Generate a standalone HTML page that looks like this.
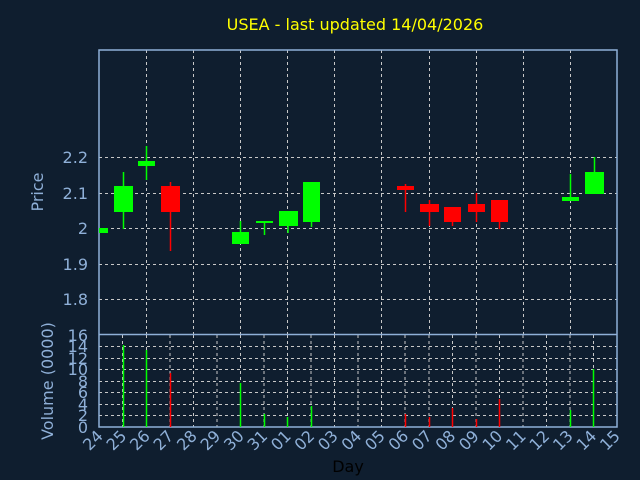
<!DOCTYPE html>
<html><head><style>
html,body{margin:0;padding:0;background:#0f1e2f;}
svg{display:block;font-family:"DejaVu Sans","Liberation Sans",sans-serif;}
</style></head><body>
<svg width="640" height="480" viewBox="0 0 640 480" xmlns="http://www.w3.org/2000/svg">
<rect width="640" height="480" fill="#0f1e2f"/>
<text x="355" y="30" fill="#ffff00" font-size="16" text-anchor="middle">USEA - last updated 14/04/2026</text>
<g stroke="#c8c8c8" stroke-dasharray="3,3" stroke-width="1">
<line x1="99" y1="157.5" x2="617" y2="157.5"/>
<line x1="99" y1="193.5" x2="617" y2="193.5"/>
<line x1="99" y1="228.5" x2="617" y2="228.5"/>
<line x1="99" y1="264.5" x2="617" y2="264.5"/>
<line x1="99" y1="299.5" x2="617" y2="299.5"/>
<line x1="146.5" y1="50" x2="146.5" y2="334"/><line x1="193.5" y1="50" x2="193.5" y2="334"/>
<line x1="240.5" y1="50" x2="240.5" y2="334"/><line x1="287.5" y1="50" x2="287.5" y2="334"/>
<line x1="334.5" y1="50" x2="334.5" y2="334"/><line x1="381.5" y1="50" x2="381.5" y2="334"/>
<line x1="429.5" y1="50" x2="429.5" y2="334"/><line x1="476.5" y1="50" x2="476.5" y2="334"/>
<line x1="523.5" y1="50" x2="523.5" y2="334"/><line x1="570.5" y1="50" x2="570.5" y2="334"/>
<line x1="99" y1="346.5" x2="617" y2="346.5"/><line x1="99" y1="358.5" x2="617" y2="358.5"/>
<line x1="99" y1="369.5" x2="617" y2="369.5"/><line x1="99" y1="381.5" x2="617" y2="381.5"/>
<line x1="99" y1="392.5" x2="617" y2="392.5"/><line x1="99" y1="404.5" x2="617" y2="404.5"/>
<line x1="99" y1="415.5" x2="617" y2="415.5"/>
<g id="vg">
<line x1="122.5" y1="335" x2="122.5" y2="427"/><line x1="146.5" y1="335" x2="146.5" y2="427"/>
<line x1="170" y1="335" x2="170" y2="427"/><line x1="193.5" y1="335" x2="193.5" y2="427"/>
<line x1="217" y1="335" x2="217" y2="427"/><line x1="240.5" y1="335" x2="240.5" y2="427"/>
<line x1="264" y1="335" x2="264" y2="427"/><line x1="287.5" y1="335" x2="287.5" y2="427"/>
<line x1="311" y1="335" x2="311" y2="427"/><line x1="334.5" y1="335" x2="334.5" y2="427"/>
<line x1="358" y1="335" x2="358" y2="427"/><line x1="381.5" y1="335" x2="381.5" y2="427"/>
<line x1="405" y1="335" x2="405" y2="427"/><line x1="429" y1="335" x2="429" y2="427"/>
<line x1="452.5" y1="335" x2="452.5" y2="427"/><line x1="476" y1="335" x2="476" y2="427"/>
<line x1="499.5" y1="335" x2="499.5" y2="427"/><line x1="523" y1="335" x2="523" y2="427"/>
<line x1="546.5" y1="335" x2="546.5" y2="427"/><line x1="570" y1="335" x2="570" y2="427"/>
<line x1="593.5" y1="335" x2="593.5" y2="427"/>
</g>
</g>
<!-- axes -->
<g stroke="#8fb0d8" stroke-width="1.5" fill="none">
<rect x="99" y="50" width="518" height="377"/>
<line x1="99" y1="334.5" x2="617" y2="334.5"/>
</g>
<!-- candles -->
<g stroke-width="1.5">
<rect x="99" y="228" width="9" height="5" fill="#00ff00"/>
<line x1="123.5" y1="172" x2="123.5" y2="229" stroke="#00ff00"/><rect x="114" y="186" width="19" height="26" fill="#00ff00"/>
<line x1="146.5" y1="146" x2="146.5" y2="180" stroke="#00ff00"/><rect x="138" y="161" width="17" height="5" fill="#00ff00"/>
<line x1="170.5" y1="182" x2="170.5" y2="251" stroke="#ff0000"/><rect x="161" y="186" width="19" height="26" fill="#ff0000"/>
<line x1="240.5" y1="221" x2="240.5" y2="244" stroke="#00ff00"/><rect x="232" y="232" width="17" height="12" fill="#00ff00"/>
<line x1="264.5" y1="221" x2="264.5" y2="235" stroke="#00ff00"/><rect x="256" y="221" width="17" height="2" fill="#00ff00"/>
<line x1="288" y1="211" x2="288" y2="233" stroke="#00ff00"/><rect x="279" y="211" width="19" height="15" fill="#00ff00"/>
<line x1="311.5" y1="182" x2="311.5" y2="227" stroke="#00ff00"/><rect x="303" y="182" width="17" height="40" fill="#00ff00"/>
<line x1="405.5" y1="184" x2="405.5" y2="212" stroke="#ff0000"/><rect x="397" y="186" width="17" height="4" fill="#ff0000"/>
<line x1="429.5" y1="200" x2="429.5" y2="226" stroke="#ff0000"/><rect x="420" y="204" width="19" height="8" fill="#ff0000"/>
<line x1="452.5" y1="207" x2="452.5" y2="226" stroke="#ff0000"/><rect x="444" y="207" width="17" height="15" fill="#ff0000"/>
<line x1="476.5" y1="193" x2="476.5" y2="222" stroke="#ff0000"/><rect x="468" y="204" width="17" height="8" fill="#ff0000"/>
<line x1="499.5" y1="200" x2="499.5" y2="229" stroke="#ff0000"/><rect x="491" y="200" width="17" height="22" fill="#ff0000"/>
<line x1="570.5" y1="174" x2="570.5" y2="197" stroke="#00ff00"/><rect x="562" y="197" width="17" height="4" fill="#00ff00"/>
<line x1="594.5" y1="157" x2="594.5" y2="172" stroke="#00ff00"/><rect x="585" y="172" width="19" height="22" fill="#00ff00"/>
</g>
<!-- volume -->
<g stroke-width="1.5">
<line x1="123.5" y1="345" x2="123.5" y2="427" stroke="#00ff00"/>
<line x1="146.5" y1="350" x2="146.5" y2="427" stroke="#00ff00"/>
<line x1="170.5" y1="373" x2="170.5" y2="427" stroke="#ff0000"/>
<line x1="240.5" y1="383" x2="240.5" y2="427" stroke="#00ff00"/>
<line x1="264.5" y1="414" x2="264.5" y2="427" stroke="#00ff00"/>
<line x1="287.5" y1="417" x2="287.5" y2="427" stroke="#00ff00"/>
<line x1="311.5" y1="406" x2="311.5" y2="427" stroke="#00ff00"/>
<line x1="405.5" y1="414" x2="405.5" y2="427" stroke="#ff0000"/>
<line x1="429.5" y1="417" x2="429.5" y2="427" stroke="#ff0000"/>
<line x1="452.5" y1="408" x2="452.5" y2="427" stroke="#ff0000"/>
<line x1="476.5" y1="419" x2="476.5" y2="427" stroke="#ff0000"/>
<line x1="499.5" y1="399" x2="499.5" y2="427" stroke="#ff0000"/>
<line x1="570.5" y1="410" x2="570.5" y2="427" stroke="#00ff00"/>
<line x1="593.5" y1="369" x2="593.5" y2="427" stroke="#00ff00"/>
</g>
<!-- labels -->
<g fill="#8fb0d8" font-size="16" text-anchor="end">
<text x="88" y="163">2.2</text><text x="88" y="199">2.1</text><text x="88" y="234">2</text>
<text x="88" y="270">1.9</text><text x="88" y="305">1.8</text><text x="88" y="341">16</text>
<text x="88" y="352">14</text><text x="88" y="364">12</text><text x="88" y="375">10</text>
<text x="88" y="387">8</text><text x="88" y="398">6</text><text x="88" y="410">4</text>
<text x="88" y="421">2</text><text x="88" y="433">0</text>
</g>
<text transform="translate(43,192) rotate(-90)" fill="#8fb0d8" font-size="16" text-anchor="middle">Price</text>
<text transform="translate(53,381) rotate(-90)" fill="#8fb0d8" font-size="16" text-anchor="middle">Volume (0000)</text>
<text x="348" y="472" fill="#000" font-size="16" text-anchor="middle">Day</text>
<g fill="#8fb0d8" font-size="16" text-anchor="end">
<text transform="translate(104,437) rotate(-45)">24</text>
<text transform="translate(127.5,437) rotate(-45)">25</text>
<text transform="translate(151,437) rotate(-45)">26</text>
<text transform="translate(174.5,437) rotate(-45)">27</text>
<text transform="translate(198,437) rotate(-45)">28</text>
<text transform="translate(221.5,437) rotate(-45)">29</text>
<text transform="translate(245,437) rotate(-45)">30</text>
<text transform="translate(268.5,437) rotate(-45)">31</text>
<text transform="translate(292,437) rotate(-45)">01</text>
<text transform="translate(315.5,437) rotate(-45)">02</text>
<text transform="translate(339,437) rotate(-45)">03</text>
<text transform="translate(362.5,437) rotate(-45)">04</text>
<text transform="translate(386,437) rotate(-45)">05</text>
<text transform="translate(409.5,437) rotate(-45)">06</text>
<text transform="translate(433,437) rotate(-45)">07</text>
<text transform="translate(456.5,437) rotate(-45)">08</text>
<text transform="translate(480,437) rotate(-45)">09</text>
<text transform="translate(503.5,437) rotate(-45)">10</text>
<text transform="translate(527,437) rotate(-45)">11</text>
<text transform="translate(550.5,437) rotate(-45)">12</text>
<text transform="translate(574,437) rotate(-45)">13</text>
<text transform="translate(597.5,437) rotate(-45)">14</text>
<text transform="translate(621,437) rotate(-45)">15</text>
</g>
</svg>
</body></html>
